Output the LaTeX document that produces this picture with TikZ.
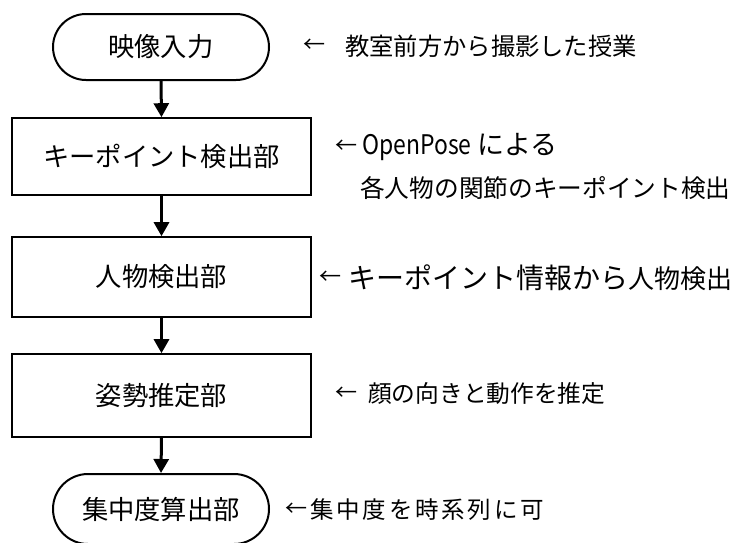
\documentclass[tikz,border=0pt]{standalone}
\usepackage{fontspec}
\setmainfont{Noto Sans CJK JP}
\usetikzlibrary{arrows.meta}
\begin{document}
\begin{tikzpicture}[x=1pt,y=-1pt,
  boxtext/.style={font=\fontsize{26.3}{30}\selectfont},
  procbox/.style={draw, line width=1.6pt, minimum width=299pt, inner sep=0pt, boxtext},
  termbox/.style={draw, line width=2pt, rounded corners=33pt, minimum width=216pt, minimum height=66pt, inner sep=0pt, boxtext},
  flow/.style={line width=3pt, -{Triangle[width=15pt,length=14pt]}},
  note/.style={anchor=west, inner sep=0pt, font=\fontsize{24}{28}\selectfont},
  larr/.style={inner sep=0pt, font=\fontsize{22}{26}\selectfont}]
\useasboundingbox (0,0) rectangle (732,542);
% flow nodes
\node[termbox] (t1) at (161,47) {映像入力};
\node[procbox, minimum height=77pt] (b2) at (161.5,156.5) {キーポイント検出部};
\node[procbox, minimum height=80pt] (b3) at (161.5,277) {人物検出部};
\node[procbox, minimum height=83pt] (b4) at (161.5,395.5) {姿勢推定部};
\node[termbox, minimum height=70pt, rounded corners=35pt] (t5) at (161,509) {集中度算出部};
% connectors
\draw[flow] (t1.south) -- (b2.north);
\draw[flow] (b2.south) -- (b3.north);
\draw[flow] (b3.south) -- (b4.north);
\draw[flow] (b4.south) -- (t5.north);
% annotations
\node[larr] (a1) at (314,46) {←};
\node[note, font=\fontsize{24.3}{28}\selectfont] (n1) at (345,46) {教室前方から撮影した授業};
\node[larr] (a2) at (346,147) {←};
\node[note, font=\fontsize{27}{30}\selectfont] (n2) at (362,147) {\scalebox{0.85}[1]{OpenPose} による};
\node[note, font=\fontsize{24.7}{28}\selectfont] (n2b) at (360,188) {各人物の関節のキーポイント検出};
\node[larr] (a3) at (330,278) {←};
\node[note] (n3) at (348,278) {{\fontsize{28}{30}\selectfont キーポイント情報から}{\fontsize{26}{30}\selectfont 人物検出}};
\node[larr] (a4) at (346,394) {←};
\node[note, font=\fontsize{23.7}{28}\selectfont] (n4) at (368,394) {顔の向きと動作を推定};
\node[larr] (a5) at (296,510) {←};
\node[note, font=\fontsize{23.5}{28}\selectfont] (n5) at (310,510) {集\kern2.8pt 中\kern2.8pt 度\kern2.8pt を\kern2.8pt 時\kern2.8pt 系\kern2.8pt 列\kern2.8pt に\kern2.8pt 可};
\end{tikzpicture}
\end{document}
